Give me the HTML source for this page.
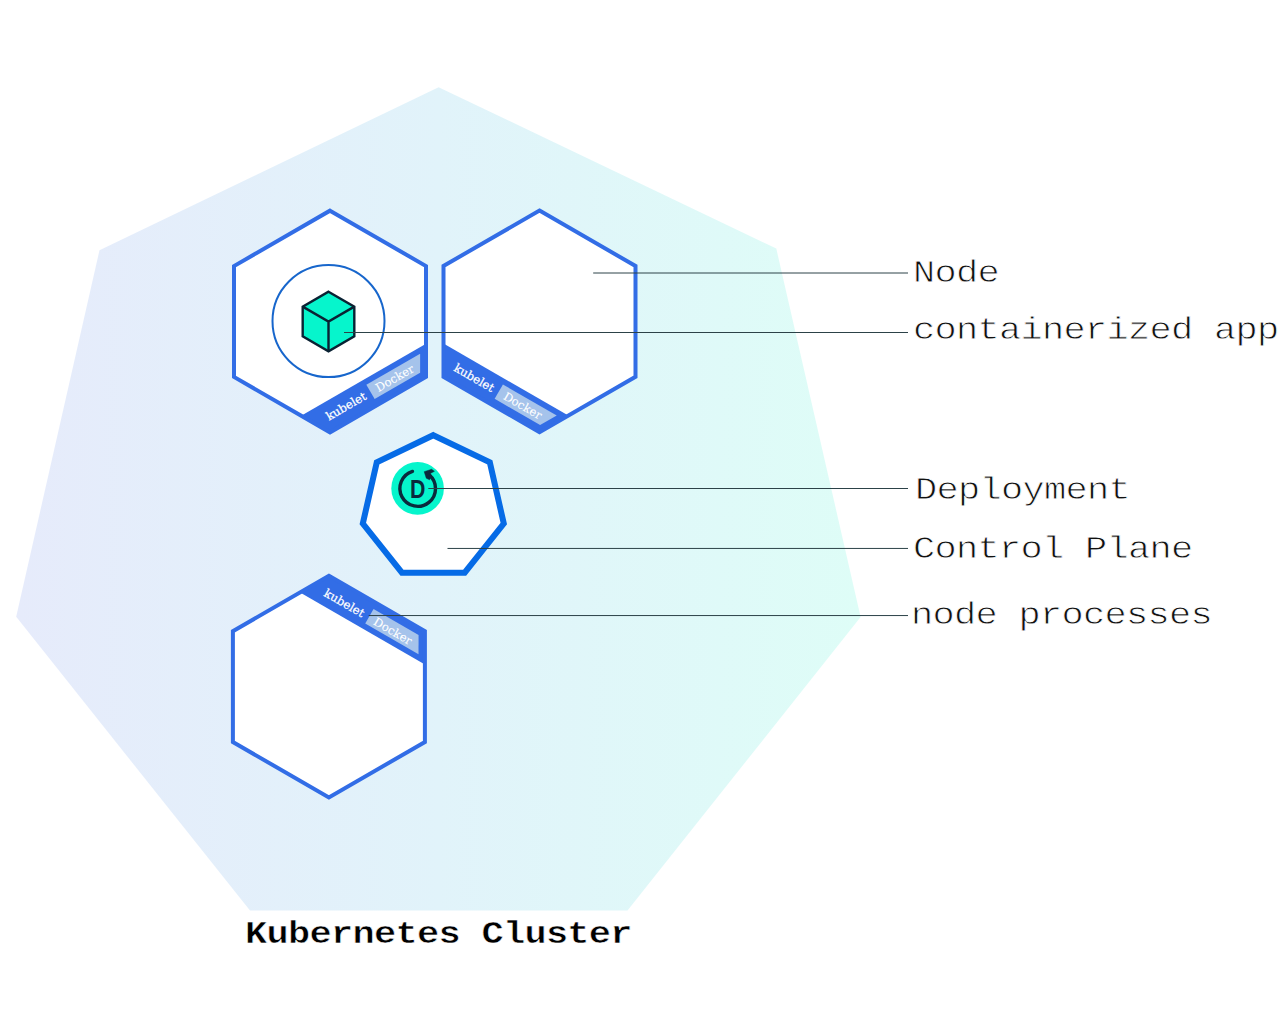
<!DOCTYPE html>
<html lang="en"><head><meta charset="utf-8"><title>Kubernetes Cluster</title>
<style>
html,body{margin:0;padding:0;background:#fff;}
body{width:1280px;height:1036px;overflow:hidden;}
svg{display:block;}
.lbl{font-family:"Liberation Mono",monospace;font-size:37px;letter-spacing:-0.7px;fill:#111;stroke:#fff;stroke-width:0.9px;paint-order:fill stroke;}
.ttl{font-family:"Liberation Mono",monospace;font-weight:bold;font-size:37px;letter-spacing:-0.7px;fill:#000;stroke:#fff;stroke-width:0.6px;paint-order:fill stroke;}
.slab{font-family:"DejaVu Serif",serif;font-size:11.7px;fill:#fff;stroke:#fff;stroke-width:0.25px;}
.dk{font-size:11.6px;stroke-width:0.1px;}
.ln{stroke:#2c4248;stroke-width:1;fill:none;}
</style></head><body>
<svg width="1280" height="1036" viewBox="0 0 1280 1036">
<defs>
<linearGradient id="bg" gradientUnits="userSpaceOnUse" x1="16" y1="0" x2="861" y2="0">
<stop offset="0" stop-color="#e6ebfb"/><stop offset="0.5" stop-color="#e1f3fa"/><stop offset="1" stop-color="#defdf7"/>
</linearGradient>
</defs>
<rect width="1280" height="1036" fill="#fff"/>
<polygon points="438.6,87.2 776.3,248.6 860.6,617 627.5,910.6 250,910.6 16.2,616.8 99.5,250.2" fill="url(#bg)"/>
<polygon points="330,210.65 426,266.07 426,376.93 330,432.35 234,376.93 234,266.07" fill="#fff"/>
<polygon points="426,376.93 330,432.35 301.2,415.72 426,343.67" fill="#326de6"/>
<polygon points="330,210.65 426,266.07 426,376.93 330,432.35 234,376.93 234,266.07" fill="none" stroke="#326de6" stroke-width="4" stroke-linejoin="miter"/>
<g transform="translate(330,432.35) rotate(-30)">
<polygon points="55.3,-23.1 117.4,-23.1 107.8,-6.5 55.3,-6.5" fill="#a5c3eb"/>
<text class="slab" x="4.8" y="-10.5">kubelet</text>
<text class="slab dk" x="62" y="-10.5">Docker</text>
</g>
<circle cx="328.5" cy="321.1" r="56" fill="none" stroke="#1766cc" stroke-width="2"/>
<polygon points="328.5,291.7 354.31,306.6 354.31,336.4 328.5,351.3 302.69,336.4 302.69,306.6" fill="#06f5cc" stroke="#0a2233" stroke-width="2.4" stroke-linejoin="miter"/>
<path d="M302.69 306.6L328.5 321.5L354.31 306.6M328.5 321.5L328.5 351.3" fill="none" stroke="#0a2233" stroke-width="2.4"/>
<polygon points="539.5,210.55 635.5,265.97 635.5,376.82 539.5,432.25 443.5,376.82 443.5,265.97" fill="#fff"/>
<polygon points="539.5,432.25 443.5,376.82 443.5,343.57 568.3,415.62" fill="#326de6"/>
<polygon points="539.5,210.55 635.5,265.97 635.5,376.82 539.5,432.25 443.5,376.82 443.5,265.97" fill="none" stroke="#326de6" stroke-width="4" stroke-linejoin="miter"/>
<g transform="translate(443.5,376.82) rotate(30)">
<polygon points="55.3,-23.1 117.4,-23.1 107.8,-6.5 55.3,-6.5" fill="#a5c3eb"/>
<text class="slab" x="4.8" y="-10.5">kubelet</text>
<text class="slab dk" x="62" y="-10.5">Docker</text>
</g>
<polygon points="328.9,575.75 424.9,631.18 424.9,742.02 328.9,797.45 232.9,742.02 232.9,631.17" fill="#fff"/>
<polygon points="328.9,575.75 424.9,631.18 424.9,664.43 300.1,592.38" fill="#326de6"/>
<polygon points="328.9,575.75 424.9,631.18 424.9,742.02 328.9,797.45 232.9,742.02 232.9,631.17" fill="none" stroke="#326de6" stroke-width="4" stroke-linejoin="miter"/>
<g transform="translate(328.9,575.75) rotate(30)">
<polygon points="55.3,6.5 107.3,6.5 116.8,23.1 55.3,23.1" fill="#a5c3eb"/>
<text class="slab" x="4.8" y="20">kubelet</text>
<text class="slab dk" x="62" y="20">Docker</text>
</g>
<polygon points="433.3,435.2 489.83,462.42 503.79,523.59 464.67,572.64 401.93,572.64 362.81,523.59 376.77,462.42" fill="#fff" stroke="#066be6" stroke-width="6" stroke-linejoin="miter"/>
<circle cx="417.6" cy="488.4" r="26.3" fill="#06f5cc"/>
<path d="M412.5 471.48A17.8 17.8 0 1 0 429.14 474.86" fill="none" stroke="#0a2a3c" stroke-width="3.4" stroke-linecap="round"/>
<polygon points="424.2,471.7 431.6,469.3 434.4,471.3 430.3,473.4 431.5,476 429.6,479.8 426.3,478.2" fill="#0a2a3c" stroke="#0a2a3c" stroke-width="0.5" stroke-linejoin="round"/>
<text transform="translate(417.6,497.7) scale(0.84,1)" text-anchor="middle" style="font-family:'Liberation Sans',sans-serif;font-weight:bold;font-size:25.4px;fill:#0a2a3c">D</text>
<path class="ln" d="M593.2 273H908M344 332.5H908M428.3 488.5H908M447.5 548.45H908M368.7 615.55H908"/>
<text class="lbl" transform="translate(913,281.6) scale(1,0.84)">Node</text>
<text class="lbl" transform="translate(913,339.4) scale(1,0.84)">containerized app</text>
<text class="lbl" transform="translate(915,499) scale(1,0.84)">Deployment</text>
<text class="lbl" transform="translate(913,558.4) scale(1,0.84)">Control Plane</text>
<text class="lbl" transform="translate(911,624) scale(1,0.84)">node processes</text>
<text class="ttl" text-anchor="middle" transform="translate(438.4,943) scale(1,0.84)">Kubernetes Cluster</text>
</svg>
</body></html>
